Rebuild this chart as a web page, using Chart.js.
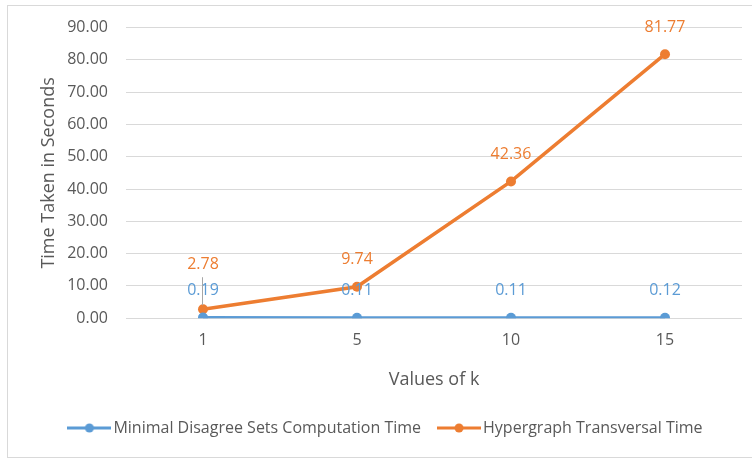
<!DOCTYPE html>
<html>
<head>
<meta charset="utf-8">
<script src="https://cdn.jsdelivr.net/npm/chart.js@4.4.1/dist/chart.umd.min.js"></script>
<style>
  html, body { margin: 0; padding: 0; background: #fff; }
  #wrap { width: 752px; height: 460px; position: relative; }
</style>
</head>
<body>
<div id="wrap"><canvas id="chart"></canvas></div>
<script>
// Data
const categories = ['1', '5', '10', '15'];
const disagreeTimes = [0.19, 0.11, 0.11, 0.12];
const transversalTimes = [2.78, 9.74, 42.36, 81.77];
const seriesNames = ['Minimal Disagree Sets Computation Time', 'Hypergraph Transversal Time'];
const yMax = 90;
const yStep = 10;

const BLUE = '#5B9BD5';
const ORANGE = '#ED7D31';
const TEXT = '#595959';
const GRID = '#D9D9D9';
const FONT = "'Open Sans', sans-serif";

// Legend marker: a short line with a dot in the middle (Excel style)
function legendMarker(color) {
    const c = document.createElement('canvas');
    c.width = 44;
    c.height = 12;
    const ctx = c.getContext('2d');
    ctx.strokeStyle = color;
    ctx.lineWidth = 3;
    ctx.beginPath();
    ctx.moveTo(0, 6);
    ctx.lineTo(44, 6);
    ctx.stroke();
    ctx.fillStyle = color;
    ctx.beginPath();
    ctx.arc(22, 6, 4.5, 0, Math.PI * 2);
    ctx.fill();
    return c;
}
const markers = [legendMarker(BLUE), legendMarker(ORANGE)];

// Light frame round the chart
const frame = {
    id: 'frame',
    beforeDraw(chart) {
        const ctx = chart.ctx;
        ctx.save();
        ctx.strokeStyle = GRID;
        ctx.lineWidth = 1;
        ctx.strokeRect(7.5, 5.5, chart.width + 10, 452);
        ctx.restore();
    }
};

// Value labels above each point, pushed up with a leader line if they collide
const valueLabels = {
    id: 'valueLabels',
    afterDatasetsDraw(chart) {
        const ctx = chart.ctx;
        const placed = [];
        ctx.save();
        ctx.font = '16px ' + FONT;
        ctx.textAlign = 'center';
        ctx.textBaseline = 'middle';
        chart.data.datasets.forEach((ds, i) => {
            const meta = chart.getDatasetMeta(i);
            meta.data.forEach((pt, j) => {
                const text = ds.data[j].toFixed(2);
                const w = ctx.measureText(text).width;
                let y = pt.y - 27;
                const hit = () => placed.some(r => Math.abs(r.x - pt.x) < (r.w + w) / 2 && Math.abs(r.y - y) < 16);
                let moved = false;
                while (hit()) {
                    y -= 18;
                    moved = true;
                }
                if (moved) {
                    ctx.strokeStyle = '#A6A6A6';
                    ctx.lineWidth = 1;
                    ctx.beginPath();
                    ctx.moveTo(Math.round(pt.x) - 0.5, y + 13);
                    ctx.lineTo(Math.round(pt.x) - 0.5, pt.y - 4);
                    ctx.stroke();
                }
                ctx.fillStyle = ds.borderColor;
                ctx.fillText(text, pt.x, y);
                placed.push({ x: pt.x, y: y, w: w });
            });
        });
        ctx.restore();
    }
};

const baseLabels = Chart.defaults.plugins.legend.labels.generateLabels;

new Chart(document.getElementById('chart'), {
    type: 'line',
    data: {
        labels: categories,
        datasets: [{
            label: seriesNames[0],
            data: disagreeTimes,
            borderColor: BLUE,
            backgroundColor: BLUE,
            borderWidth: 3,
            pointRadius: 5,
            pointBorderWidth: 0,
            pointBackgroundColor: BLUE
        }, {
            label: seriesNames[1],
            data: transversalTimes,
            borderColor: ORANGE,
            backgroundColor: ORANGE,
            borderWidth: 3.5,
            pointRadius: 5,
            pointBorderWidth: 0,
            pointBackgroundColor: ORANGE
        }]
    },
    options: {
        responsive: true,
        maintainAspectRatio: false,
        animation: false,
        layout: { padding: { left: 34, right: 10, top: 23, bottom: 14 } },
        scales: {
            x: {
                offset: true,
                grid: { display: false, drawTicks: false },
                border: { display: false },
                ticks: { color: TEXT, font: { family: FONT, size: 16 }, padding: 13 },
                title: {
                    display: true,
                    text: 'Values of k',
                    color: TEXT,
                    font: { family: FONT, size: 18 },
                    padding: { top: 6, bottom: 7 }
                }
            },
            y: {
                min: 0,
                max: yMax,
                grid: { color: GRID, drawTicks: false },
                border: { display: false },
                ticks: {
                    stepSize: yStep,
                    color: TEXT,
                    font: { family: FONT, size: 16 },
                    padding: 18,
                    callback: v => v.toFixed(2)
                },
                title: {
                    display: true,
                    text: 'Time Taken in Seconds',
                    color: TEXT,
                    font: { family: FONT, size: 18 },
                    padding: { top: 4, bottom: 4 }
                },
                afterFit(scale) { scale.width = 92; }
            }
        },
        plugins: {
            tooltip: { enabled: false },
            legend: {
                position: 'bottom',
                labels: {
                    color: TEXT,
                    font: { family: FONT, size: 16 },
                    usePointStyle: true,
                    pointStyleWidth: 32,
                    padding: 22,
                    generateLabels(chart) {
                        return baseLabels(chart).map(item => {
                            item.pointStyle = markers[item.datasetIndex];
                            return item;
                        });
                    }
                }
            }
        }
    },
    plugins: [frame, valueLabels]
});
</script>
</body>
</html>
